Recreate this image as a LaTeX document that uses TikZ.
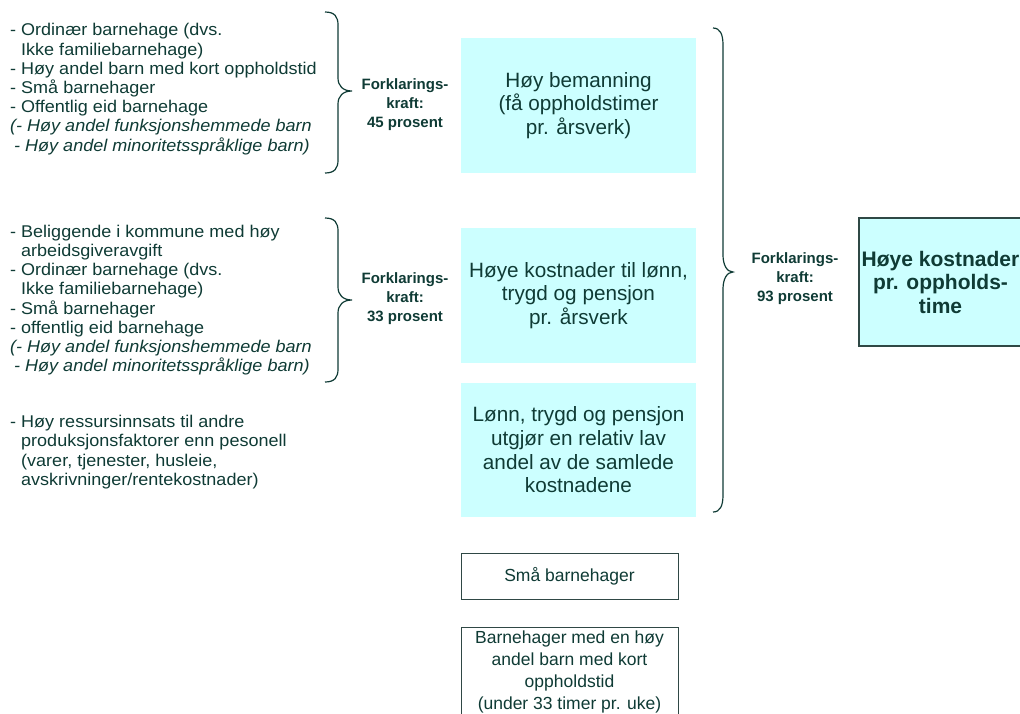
\documentclass[tikz,border=0pt]{standalone}
\usepackage{fontspec}
\setmainfont{Liberation Sans}
\newfontfamily\leftfont{Liberation Sans}[FakeStretch=1.06]
\definecolor{tc}{HTML}{0F3B35}
\definecolor{cyanfill}{HTML}{CCFFFF}
\definecolor{bordc}{HTML}{2F4845}
\begin{document}
\begin{tikzpicture}[x=1pt,y=-1pt,
  txt/.style={text=tc, inner sep=0pt, align=left, anchor=west, font=\leftfont\fontsize{17}{19.2}\selectfont},
  lbl/.style={text=tc, inner sep=0pt, align=center, font=\bfseries\fontsize{15}{19}\selectfont},
  cbox/.style={fill=cyanfill, text=tc, inner sep=0pt, align=center, font=\fontsize{20.7}{23.7}\selectfont},
  rbox/.style={fill=cyanfill, draw=bordc, line width=1.3pt, text=tc, inner sep=0pt, align=center, font=\bfseries\fontsize{21}{23.5}\selectfont},
  wbox/.style={fill=white, draw=bordc, line width=0.9pt, text=tc, inner sep=0pt, align=center, font=\fontsize{17.5}{22.3}\selectfont},
  bracestyle/.style={draw=tc, line width=1.2pt}]
\useasboundingbox (0,0) rectangle (1020,713);
\clip (0,0) rectangle (1020,713);

% left text blocks
\node[txt] (t1) at (10,89) {- Ordinær barnehage (dvs.\\
\hspace*{11pt}Ikke familiebarnehage)\\
- Høy andel barn med kort oppholdstid\\
- Små barnehager\\
- Offentlig eid barnehage\\
\textit{(- Høy andel funksjonshemmede barn}\\
\hspace*{4pt}\textit{- Høy andel minoritetsspråklige barn)}};

\node[txt] (t2) at (10,300) {- Beliggende i kommune med høy\\
\hspace*{11pt}arbeidsgiveravgift\\
- Ordinær barnehage (dvs.\\
\hspace*{11pt}Ikke familiebarnehage)\\
- Små barnehager\\
- offentlig eid barnehage\\
\textit{(- Høy andel funksjonshemmede barn}\\
\hspace*{4pt}\textit{- Høy andel minoritetsspråklige barn)}};

\node[txt] (t3) at (10,452) {- Høy ressursinnsats til andre\\
\hspace*{11pt}produksjonsfaktorer enn pesonell\\
\hspace*{11pt}(varer, tjenester, husleie,\\
\hspace*{11pt}avskrivninger/rentekostnader)};

% braces
\coordinate (b1t) at (325,12);
\coordinate (b1m) at (352,91);
\coordinate (b1b) at (325,173);
\path[bracestyle] (b1t) .. controls (335,12) and (338,17) .. (338,25) -- (338,78)
  .. controls (338,86) and (343,91) .. (b1m)
  .. controls (343,91) and (338,96) .. (338,104) -- (338,160)
  .. controls (338,168) and (335,173) .. (b1b);

\coordinate (b2t) at (325,218);
\coordinate (b2m) at (352,300);
\coordinate (b2b) at (325,382);
\path[bracestyle] (b2t) .. controls (335,218) and (338,223) .. (338,231) -- (338,287)
  .. controls (338,295) and (343,300) .. (b2m)
  .. controls (343,300) and (338,305) .. (338,313) -- (338,369)
  .. controls (338,377) and (335,382) .. (b2b);

\coordinate (b3t) at (713,28);
\coordinate (b3m) at (733,272);
\coordinate (b3b) at (713,512);
\path[bracestyle] (b3t) .. controls (720,28) and (723,34) .. (723,45) -- (723,255)
  .. controls (723,265) and (727,272) .. (b3m)
  .. controls (727,272) and (723,279) .. (723,289) -- (723,495)
  .. controls (723,506) and (720,512) .. (b3b);

% labels
\node[lbl] (l45) at (405,105) {Forklarings-\\kraft:\\45 prosent};
\node[lbl] (l33) at (405,299) {Forklarings-\\kraft:\\33 prosent};
\node[lbl] (l93) at (795,279) {Forklarings-\\kraft:\\93 prosent};

% cyan boxes
\node[cbox, minimum width=235pt, minimum height=135pt] (c1) at (578.5,105.5) {Høy bemanning\\(få oppholdstimer\\pr. årsverk)};
\node[cbox, minimum width=235pt, minimum height=135pt] (c2) at (578.5,295.5) {Høye kostnader til lønn,\\trygd og pensjon\\pr. årsverk};
\node[cbox, minimum width=235pt, minimum height=134pt] (c3) at (578.5,450) {Lønn, trygd og pensjon\\utgjør en relativ lav\\andel av de samlede\\kostnadene};

\node[rbox, minimum width=163pt, minimum height=128pt] (r) at (940.5,282) {Høye kostnader\\pr. oppholds-\\time};

% white boxes
\node[wbox, minimum width=217pt, minimum height=46pt] (w1) at (569.5,576) {Små barnehager};
\node[wbox, minimum width=217pt, minimum height=90pt] (w2) at (569.5,672) {Barnehager med en høy\\andel barn med kort\\oppholdstid\\(under 33 timer pr. uke)};
\end{tikzpicture}
\end{document}
